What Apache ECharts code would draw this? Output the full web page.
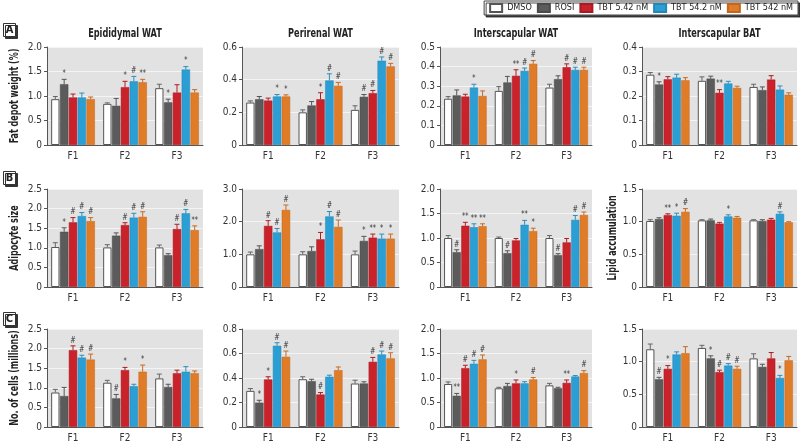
<!DOCTYPE html>
<html><head><meta charset="utf-8">
<script src="https://cdn.jsdelivr.net/npm/echarts@6/dist/echarts.min.js"></script>
<style>html,body{margin:0;padding:0;background:#fff}#c{width:800px;height:444px}</style>
</head><body><div id="c"></div>
<script>
const categories = ['F1','F2','F3'];
const seriesNames = ['DMSO','ROSI','TBT 5.42 nM','TBT 54.2 nM','TBT 542 nM'];
const panelTitles = ['Epididymal WAT','Perirenal WAT','Interscapular WAT','Interscapular BAT'];
const rowLetters = ['A','B','C'];
const rowYNames = ['Fat depot weight (%)','Adipocyte size','No. of cells (millions)'];
const extraYName = 'Lipid accumulation';

// Row A: fat depot weight (%)  [series][F1,F2,F3]
const epiWeightMean = [[0.935,0.84,1.16],[1.24,0.80,0.87],[0.97,1.18,1.07],[0.97,1.30,1.54],[0.935,1.28,1.07]];
const epiWeightSem  = [[0.055,0.02,0.08],[0.10,0.15,0.065],[0.07,0.12,0.16],[0.09,0.10,0.06],[0.045,0.06,0.06]];
const epiWeightSig  = [['','',''],['*','','*'],['','*',''],['','#','*'],['','**','']];

const periWeightMean = [[0.26,0.20,0.215],[0.28,0.242,0.295],[0.272,0.28,0.317],[0.297,0.395,0.516],[0.297,0.362,0.481]];
const periWeightSem  = [[0.01,0.015,0.025],[0.017,0.024,0.014],[0.015,0.04,0.017],[0.012,0.041,0.023],[0.01,0.021,0.019]];
const periWeightSig  = [['','',''],['','','#'],['','*','#'],['*','#','#'],['*','#','#']];

const interWeightMean = [[0.236,0.276,0.293],[0.253,0.319,0.336],[0.247,0.353,0.397],[0.293,0.378,0.383],[0.25,0.414,0.383]];
const interWeightSem  = [[0.011,0.022,0.017],[0.028,0.031,0.017],[0.012,0.031,0.017],[0.017,0.015,0.014],[0.026,0.017,0.014]];
const interWeightSig  = [['','',''],['','',''],['','**','#'],['*','#','#'],['','#','#']];

const batWeightMean = [[0.287,0.262,0.237],[0.247,0.271,0.224],[0.268,0.213,0.267],[0.275,0.251,0.226],[0.264,0.233,0.205]];
const batWeightSem  = [[0.009,0.016,0.011],[0.011,0.010,0.013],[0.011,0.013,0.016],[0.014,0.009,0.015],[0.011,0.007,0.008]];
const batWeightSig  = [['','',''],['*','',''],['','**',''],['','',''],['','','']];

// Row B: adipocyte size / lipid accumulation
const epiSizeMean = [[1.02,1.01,1.01],[1.41,1.31,0.81],[1.65,1.58,1.48],[1.81,1.77,1.88],[1.68,1.79,1.45]];
const epiSizeSem  = [[0.11,0.07,0.06],[0.10,0.07,0.04],[0.12,0.06,0.12],[0.09,0.11,0.10],[0.09,0.13,0.11]];
const epiSizeSig  = [['','',''],['*','',''],['#','#','#'],['#','#','#'],['#','#','**']];

const periSizeMean = [[1.0,1.0,1.0],[1.16,1.10,1.41],[1.87,1.46,1.51],[1.67,2.16,1.48],[2.36,1.84,1.48]];
const periSizeSem  = [[0.07,0.08,0.10],[0.10,0.13,0.14],[0.16,0.21,0.11],[0.12,0.15,0.14],[0.15,0.21,0.14]];
const periSizeSig  = [['','',''],['','','*'],['#','*','**'],['#','#','*'],['#','#','*']];

const interSizeMean = [[1.0,1.0,1.0],[0.71,0.69,0.65],[1.25,0.95,0.91],[1.22,1.27,1.37],[1.24,1.14,1.47]];
const interSizeSem  = [[0.05,0.02,0.05],[0.05,0.05,0.03],[0.07,0.04,0.08],[0.07,0.09,0.09],[0.05,0.06,0.06]];
const interSizeSig  = [['','',''],['#','#','#'],['**','',''],['**','**','#'],['**','*','#']];

const batLipidMean = [[1.01,1.02,1.02],[1.04,1.02,1.01],[1.10,0.97,1.03],[1.09,1.08,1.12],[1.15,1.06,0.99]];
const batLipidSem  = [[0.02,0.01,0.01],[0.02,0.02,0.02],[0.02,0.02,0.02],[0.04,0.025,0.03],[0.05,0.02,0.01]];
const batLipidSig  = [['','',''],['','',''],['**','',''],['*','*','#'],['#','','']];

// Row C: number of cells (millions)
const epiCellsMean = [[0.88,1.13,1.24],[0.79,0.73,1.02],[1.96,1.45,1.37],[1.77,1.04,1.41],[1.72,1.41,1.37]];
const epiCellsSem  = [[0.08,0.06,0.11],[0.22,0.10,0.07],[0.11,0.07,0.08],[0.06,0.05,0.13],[0.14,0.17,0.06]];
const epiCellsSig  = [['','',''],['','#',''],['#','*',''],['#','',''],['#','*','']];

const periCellsMean = [[0.295,0.39,0.355],[0.199,0.374,0.355],[0.388,0.265,0.532],[0.663,0.41,0.592],[0.573,0.464,0.56]];
const periCellsSem  = [[0.019,0.02,0.027],[0.019,0.016,0.014],[0.022,0.016,0.036],[0.025,0.013,0.028],[0.047,0.026,0.046]];
const periCellsSig  = [['','',''],['*','',''],['*','#','#'],['#','','#'],['#','','#']];

const interCellsMean = [[0.877,0.79,0.85],[0.637,0.836,0.79],[1.20,0.89,0.90],[1.29,0.89,1.03],[1.38,0.97,1.10]];
const interCellsSem  = [[0.043,0.02,0.04],[0.048,0.054,0.02],[0.06,0.07,0.06],[0.07,0.035,0.02],[0.09,0.04,0.05]];
const interCellsSig  = [['','',''],['**','',''],['#','*','**'],['#','',''],['#','#','#']];

const batCellsMean = [[1.19,1.21,1.05],[0.73,1.05,0.92],[0.89,0.84,1.05],[1.11,0.94,0.75],[1.13,0.89,1.02]];
const batCellsSem  = [[0.08,0.04,0.07],[0.03,0.04,0.04],[0.05,0.03,0.09],[0.04,0.03,0.04],[0.10,0.04,0.06]];
const batCellsSig  = [['','',''],['#','*',''],['*','#',''],['','#','*'],['','#','']];

// Axis ranges [max, interval]
const axisMax      = [2.0,0.6,0.5,0.4, 2.5,3.0,2.0,1.5, 2.5,0.8,2.0,1.5];
const axisInterval = [0.5,0.2,0.1,0.1, 0.5,1.0,0.5,0.5, 0.5,0.2,0.5,0.5];

const panels = [
  [epiWeightMean,epiWeightSem,epiWeightSig],[periWeightMean,periWeightSem,periWeightSig],
  [interWeightMean,interWeightSem,interWeightSig],[batWeightMean,batWeightSem,batWeightSig],
  [epiSizeMean,epiSizeSem,epiSizeSig],[periSizeMean,periSizeSem,periSizeSig],
  [interSizeMean,interSizeSem,interSizeSig],[batLipidMean,batLipidSem,batLipidSig],
  [epiCellsMean,epiCellsSem,epiCellsSig],[periCellsMean,periCellsSem,periCellsSig],
  [interCellsMean,interCellsSem,interCellsSig],[batCellsMean,batCellsSem,batCellsSig]
];

// ---- styling / layout ----
const FONT = "'Liberation Sans Narrow','DejaVu Sans Condensed','Roboto',sans-serif";
const barColors = ['#ffffff','#5b5b5b','#c9222b','#2b9fd4','#e07b28'];
const barBorders = ['#555555','#4a4a4a','#a81b22','#2387b8','#c2671f'];
const errColors = ['#666666','#555555','#b01c24','#2a8fc0','#c96a20'];
const cols = [{l:47,r:203},{l:242,r:399},{l:440,r:592},{l:642,r:797}];
const rows = [{t:47,h:98},{t:189,h:98},{t:329,h:98}];
const CAT_GAP = 0.16, BAR_GAP = 0.06;

const grids=[], xAxes=[], yAxes=[], series=[];
panels.forEach((p, idx) => {
  const r = Math.floor(idx/4), c = idx%4;
  const [mean, sem, sig] = p;
  grids.push({left:cols[c].l, width:cols[c].r-cols[c].l, top:rows[r].t, height:rows[r].h,
    show:true, backgroundColor:'#e2e2e2', borderWidth:0});
  xAxes.push({type:'category', gridIndex:idx, data:categories,
    axisLine:{lineStyle:{color:'#555',width:1}}, axisTick:{show:false},
    axisLabel:{fontFamily:FONT, fontSize:10, color:'#333', margin:6}});
  yAxes.push({type:'value', gridIndex:idx, min:0, max:axisMax[idx], interval:axisInterval[idx],
    axisLine:{show:true, lineStyle:{color:'#555',width:1}},
    axisTick:{show:true, length:3, lineStyle:{color:'#555'}},
    splitLine:{show:true, lineStyle:{color:'#f4f4f4',width:1}},
    axisLabel:{fontFamily:FONT, fontSize:10, color:'#333', margin:5,
      formatter: v => v===0 ? '0' : v.toFixed(1)}});
  for (let s=0; s<5; s++) {
    series.push({type:'bar', name:seriesNames[s], xAxisIndex:idx, yAxisIndex:idx,
      data:mean[s], barGap:(BAR_GAP*100)+'%', barCategoryGap:(CAT_GAP*100)+'%',
      itemStyle:{color:barColors[s], borderColor:barBorders[s], borderWidth: s===0?1:0.5},
      emphasis:{disabled:true}, animation:false, z:2});
  }
  for (let s=0; s<5; s++) {
    const sIdx = s;
    const sigArr = sig[s];
    series.push({type:'custom', name:seriesNames[s], xAxisIndex:idx, yAxisIndex:idx,
      data: categories.map((cat,i) => [i, mean[s][i], sem[s][i]]),
      encode:{x:0, y:1}, z:3, animation:false, silent:true,
      renderItem: function(params, api){
        const ci = api.value(0), m = api.value(1), e = api.value(2);
        const base = api.coord([ci, m]);
        const top = api.coord([ci, m+e]);
        const w = api.size([1,0])[0];
        const band = w*(1-CAT_GAP);
        const bw = band/(5+4*BAR_GAP);
        const x = base[0] - band/2 + sIdx*bw*(1+BAR_GAP) + bw/2;
        const cw = bw*0.3;
        const col = errColors[sIdx];
        const children = [
          {type:'line', shape:{x1:x,y1:base[1],x2:x,y2:top[1]}, style:{stroke:col,lineWidth:1}},
          {type:'line', shape:{x1:x-cw,y1:top[1],x2:x+cw,y2:top[1]}, style:{stroke:col,lineWidth:1}}
        ];
        const t = sigArr[params.dataIndex];
        if (t) children.push({type:'text', x:x, y:top[1]-1, scaleX:0.8,
          style:{text:t, fill:'#333', font:'9px '+FONT, align:'center', verticalAlign:'bottom',
                 textAlign:'center', textVerticalAlign:'bottom'}});
        return {type:'group', children};
      }});
  }
});

const graphics = [];
panelTitles.forEach((t, c) => {
  graphics.push({type:'text', x:(cols[c].l+cols[c].r)/2, y:27, scaleX:0.7,
    style:{text:t, font:'bold 13px '+FONT, fill:'#222', textAlign:'center', textVerticalAlign:'top'}});
});
rowYNames.forEach((t, r) => {
  graphics.push({type:'text', x:15, y:rows[r].t+rows[r].h/2, rotation:Math.PI/2, scaleX:0.74,
    style:{text:t, font:'bold 12px '+FONT, fill:'#222', textAlign:'center', textVerticalAlign:'middle'}});
});
graphics.push({type:'text', x:613, y:rows[1].t+rows[1].h/2, rotation:Math.PI/2, scaleX:0.74,
  style:{text:extraYName, font:'bold 12px '+FONT, fill:'#222', textAlign:'center', textVerticalAlign:'middle'}});
const letterY = [23, 171, 312];
rowLetters.forEach((L, r) => {
  graphics.push({type:'rect', shape:{x:3.5,y:letterY[r]+0.5,width:12,height:13},
    style:{fill:'#fff', stroke:'#333', lineWidth:1, shadowColor:'#333', shadowOffsetX:2, shadowOffsetY:2, shadowBlur:0}});
  graphics.push({type:'text', x:9.5, y:letterY[r]+7,
    style:{text:L, font:'bold 11px '+FONT, fill:'#222', textAlign:'center', textVerticalAlign:'middle'}});
});

const chart = echarts.init(document.getElementById('c'), null, {renderer:'canvas'});
chart.setOption({
  animation:false,
  grid:grids, xAxis:xAxes, yAxis:yAxes, series:series,
  legend:{data:seriesNames, top:1, right:2, icon:'rect', itemWidth:12, itemHeight:8, itemGap:5,
    padding:[2,5], borderColor:'#444', borderWidth:1, backgroundColor:'#fff',
    shadowColor:'rgba(0,0,0,0.7)', shadowOffsetX:2, shadowOffsetY:2, shadowBlur:0,
    textStyle:{fontFamily:FONT, fontSize:9, color:'#222'}},
  graphic:graphics
});
</script></body></html>
